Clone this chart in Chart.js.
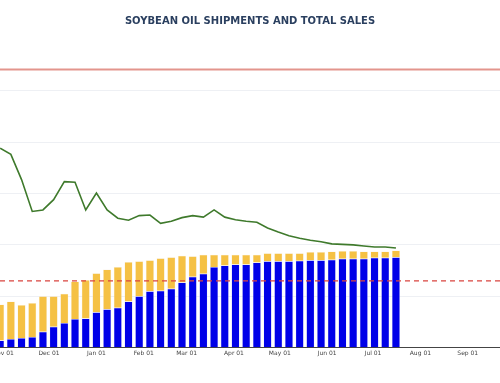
<!DOCTYPE html>
<html>
<head>
<meta charset="utf-8">
<script src="https://cdn.jsdelivr.net/npm/chart.js@4"></script>
<style>
  html, body { margin: 0; padding: 0; background: #fff; }
  #wrap { width: 500px; height: 383px; position: relative; }
</style>
</head>
<body>
<div id="wrap"><canvas id="salesChart"></canvas></div>
<script>
// Week-ending dates (Thursdays), 2014/15 marketing year
const weekDates = [
    '2014-10-30', '2014-11-06', '2014-11-13', '2014-11-20', '2014-11-27',
    '2014-12-04', '2014-12-11', '2014-12-18', '2014-12-25', '2015-01-01',
    '2015-01-08', '2015-01-15', '2015-01-22', '2015-01-29', '2015-02-05',
    '2015-02-12', '2015-02-19', '2015-02-26', '2015-03-05', '2015-03-12',
    '2015-03-19', '2015-03-26', '2015-04-02', '2015-04-09', '2015-04-16',
    '2015-04-23', '2015-04-30', '2015-05-07', '2015-05-14', '2015-05-21',
    '2015-05-28', '2015-06-04', '2015-06-11', '2015-06-18', '2015-06-25',
    '2015-07-02', '2015-07-09', '2015-07-16'
];

// Accumulated exports (shipped)
const shipments = [
    14, 17, 19, 21, 31, 41, 48, 56, 57, 69,
    75, 78, 90, 100, 110, 111, 115, 127, 138, 144,
    157, 160, 162, 162, 166, 168, 168, 168, 169, 170,
    170, 171, 173, 173, 173, 175, 175, 176
];

// Outstanding sales stacked on top of shipments
const outstanding = [
    70, 73, 64, 66, 69, 59, 57, 73, 75, 76,
    77, 79, 77, 68, 60, 63, 61, 52, 40, 37,
    24, 21, 19, 19, 15, 16, 16, 16, 15, 16,
    16, 16, 15, 15, 14, 12, 12, 13
];

// Green line
const trendLine = [
    388, 376, 327, 265, 268, 288, 323, 322, 268, 301,
    268, 252, 248, 257, 258, 242, 246, 253, 257, 254,
    268, 254, 249, 246, 244, 233, 225, 218, 213, 209,
    206, 202, 201, 200, 198, 196, 196, 194
];

// Reference levels
const projectionLevel = 541;
const dashedLevel = 130;

// Axis range and month ticks
const axisStart = '2014-10-30';
const axisEnd = '2015-09-22';
const tickDates = [
    '2014-11-01', '2014-12-01', '2015-01-01', '2015-02-01', '2015-03-01', '2015-04-01',
    '2015-05-01', '2015-06-01', '2015-07-01', '2015-08-01', '2015-09-01'
];
const tickLabels = [
    'Nov 01', 'Dec 01', 'Jan 01', 'Feb 01', 'Mar 01', 'Apr 01',
    'May 01', 'Jun 01', 'Jul 01', 'Aug 01', 'Sep 01'
];

const toDay = s => {
    const [y, m, d] = s.split('-').map(Number);
    return Date.UTC(y, m - 1, d) / 86400000;
};

const xMin = toDay(axisStart) - 0.1;
const xMax = toDay(axisEnd) + 0.1;
const tickDays = tickDates.map(toDay);

const pts = arr => arr.map((v, i) => ({ x: toDay(weekDates[i]), y: v }));
const flat = v => [{ x: xMin, y: v }, { x: xMax, y: v }];

const chartData = {
    datasets: [
        {
            type: 'line',
            label: 'Projection',
            data: flat(projectionLevel),
            borderColor: '#e3958d',
            borderWidth: 2,
            pointRadius: 0,
            stack: 'projection',
            order: 0
        },
        {
            type: 'line',
            label: 'Reference',
            data: flat(dashedLevel),
            borderColor: '#d9443f',
            borderWidth: 1.2,
            borderDash: [5, 4],
            pointRadius: 0,
            stack: 'reference',
            order: 0
        },
        {
            type: 'line',
            label: 'Trend',
            data: pts(trendLine),
            borderColor: '#3f7a2c',
            borderWidth: 1.6,
            pointRadius: 0,
            tension: 0,
            stack: 'trend',
            order: 1
        },
        {
            type: 'bar',
            label: 'Shipments',
            data: pts(shipments),
            backgroundColor: '#0000e8',
            borderColor: 'rgba(220,220,245,0.9)',
            borderWidth: 0.5,
            stack: 'sales',
            barPercentage: 0.76,
            categoryPercentage: 1,
            order: 2
        },
        {
            type: 'bar',
            label: 'Outstanding Sales',
            data: pts(outstanding),
            backgroundColor: '#f5c144',
            borderColor: 'rgba(245,235,220,0.9)',
            borderWidth: 0.5,
            stack: 'sales',
            barPercentage: 0.76,
            categoryPercentage: 1,
            order: 2
        }
    ]
};

const chartConfig = {
    type: 'bar',
    data: chartData,
    options: {
        responsive: true,
        maintainAspectRatio: false,
        animation: false,
        layout: { padding: { left: 0, right: 0, top: 0, bottom: 24 } },
        plugins: {
            legend: { display: false },
            tooltip: { enabled: false },
            title: {
                display: true,
                text: 'SOYBEAN OIL SHIPMENTS AND TOTAL SALES',
                color: '#2a3f5f',
                font: { family: 'DejaVu Sans, Verdana, sans-serif', size: 10, weight: 'bold' },
                padding: { top: 15, bottom: 25 }
            }
        },
        scales: {
            x: {
                type: 'linear',
                stacked: true,
                min: xMin,
                max: xMax,
                offset: false,
                afterBuildTicks: scale => {
                    scale.ticks = tickDays.map(v => ({ value: v }));
                },
                afterFit: scale => {
                    scale.paddingLeft = 0;
                    scale.paddingRight = 0;
                },
                grid: { display: false, drawTicks: false },
                border: { display: true, color: '#444', width: 1 },
                ticks: {
                    autoSkip: false,
                    maxRotation: 0,
                    padding: 2,
                    color: '#444',
                    font: { family: 'DejaVu Sans, Verdana, sans-serif', size: 6 },
                    callback: value => {
                        const i = tickDays.indexOf(value);
                        return i >= 0 ? tickLabels[i] : '';
                    }
                }
            },
            y: {
                stacked: true,
                min: 0,
                max: 575,
                grid: { color: '#eef0f4', drawTicks: false },
                border: { display: false },
                ticks: { display: false, stepSize: 100, includeBounds: false }
            }
        }
    }
};

new Chart(document.getElementById('salesChart'), chartConfig);
</script>
</body>
</html>
